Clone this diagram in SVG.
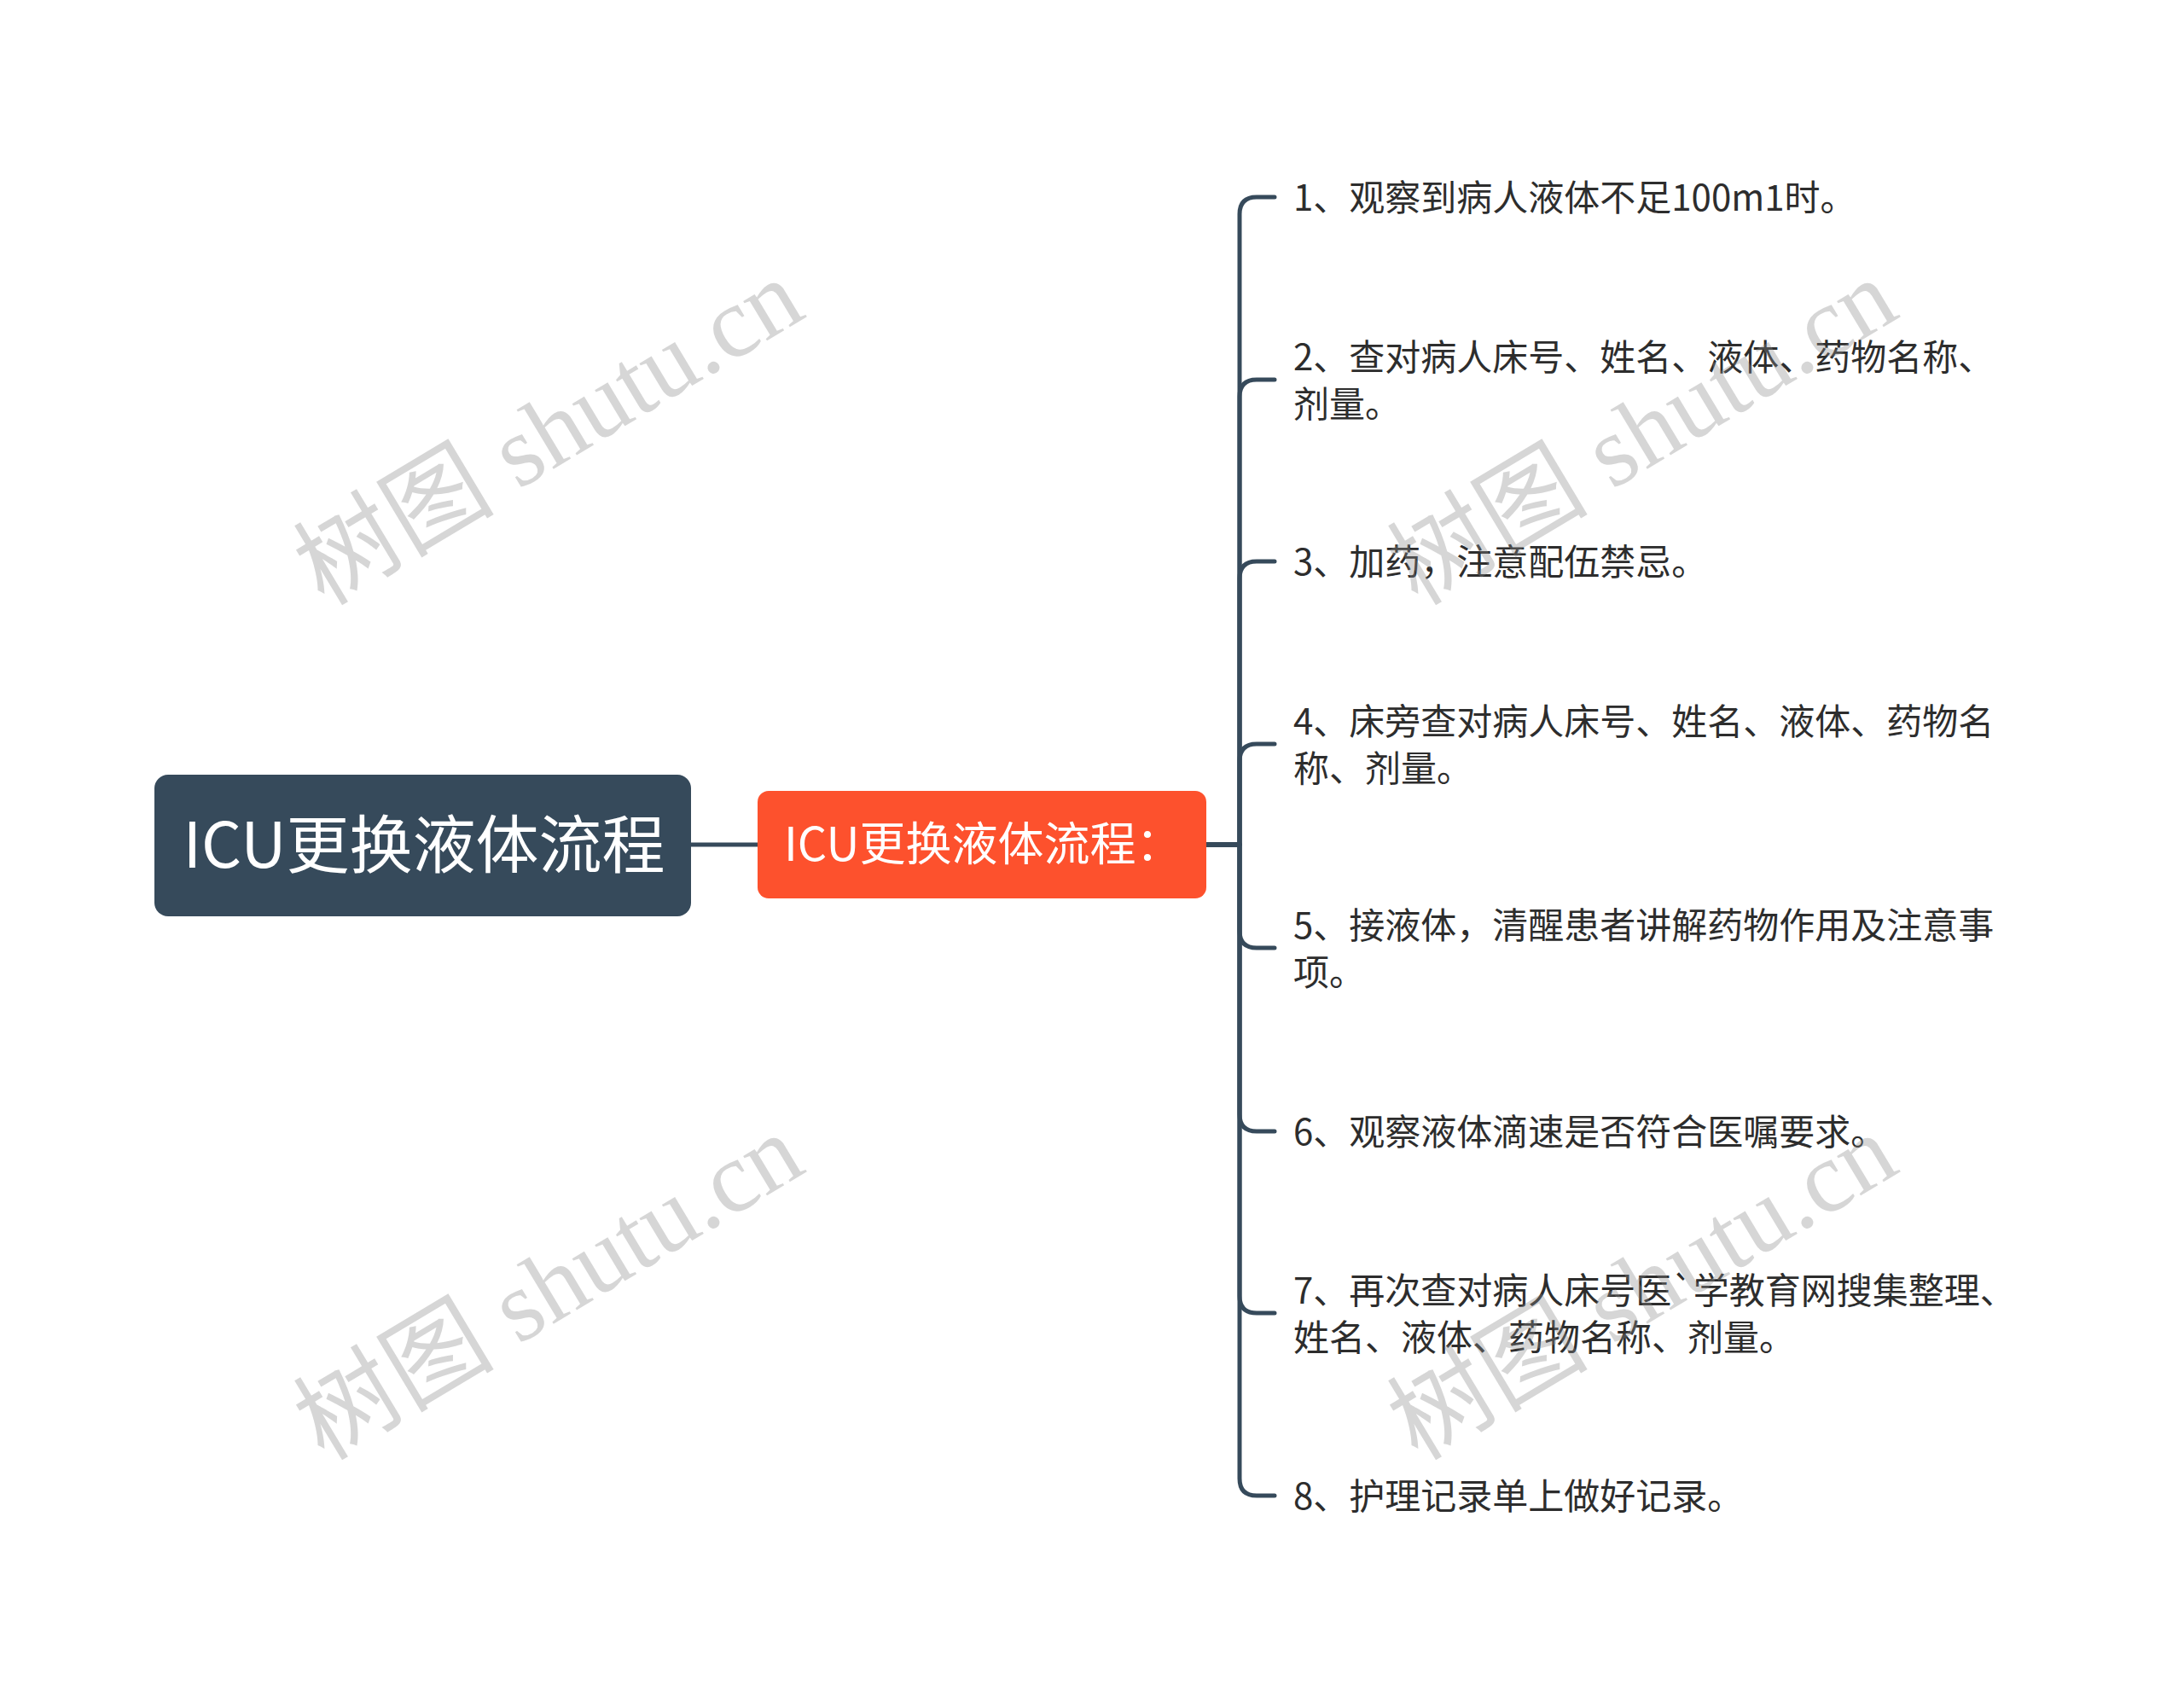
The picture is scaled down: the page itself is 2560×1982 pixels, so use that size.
<svg xmlns="http://www.w3.org/2000/svg" width="2560" height="1982" viewBox="0 0 2560 1982">
<style>
.conn{fill:none;stroke:#364a5b;stroke-width:5;stroke-linecap:round;stroke-linejoin:round}
.leaf{font-family:"Noto Sans CJK SC","Noto Sans",sans-serif;font-size:42px;fill:#2d2d2d}
.wm{font-family:"Liberation Serif","Noto Sans CJK SC",serif;font-size:118px;fill:#8a8a8a;fill-opacity:0.35}
</style>
<rect width="2560" height="1982" fill="#ffffff"/>
<g id="connectors">
<path class="conn" d="M810 990 H888"/>
<path class="conn" d="M1414 990 H1453 V251 Q1453 231 1473 231 H1494"/>
<path class="conn" d="M1414 990 H1453 V465 Q1453 445 1473 445 H1494"/>
<path class="conn" d="M1414 990 H1453 V678 Q1453 658 1473 658 H1494"/>
<path class="conn" d="M1414 990 H1453 V892 Q1453 872 1473 872 H1494"/>
<path class="conn" d="M1414 990 H1453 V1091 Q1453 1111 1473 1111 H1494"/>
<path class="conn" d="M1414 990 H1453 V1306 Q1453 1326 1473 1326 H1494"/>
<path class="conn" d="M1414 990 H1453 V1519 Q1453 1539 1473 1539 H1494"/>
<path class="conn" d="M1414 990 H1453 V1733 Q1453 1753 1473 1753 H1494"/>
</g>
<g id="root">
<rect x="181" y="908" width="629" height="166" rx="16" fill="#364a5b"/>
<text x="497" y="1017" text-anchor="middle" font-family="'Noto Sans CJK SC','Noto Sans',sans-serif" font-size="74" fill="#ffffff">ICU更换液体流程</text>
</g>
<g id="main">
<rect x="888" y="927" width="526" height="126" rx="13" fill="#fd512d"/>
<text x="919" y="1009" font-family="'Noto Sans CJK SC','Noto Sans',sans-serif" font-size="54" fill="#ffffff">ICU更换液体流程：</text>
</g>
<g id="item1"><text class="leaf" x="1516" y="247">1、观察到病人液体不足100m1时。</text></g>
<g id="item2"><text class="leaf" x="1516" y="434">2、查对病人床号、姓名、液体、药物名称、<tspan x="1516" dy="55">剂量。</tspan></text></g>
<g id="item3"><text class="leaf" x="1516" y="674">3、加药，注意配伍禁忌。</text></g>
<g id="item4"><text class="leaf" x="1516" y="861">4、床旁查对病人床号、姓名、液体、药物名<tspan x="1516" dy="55">称、剂量。</tspan></text></g>
<g id="item5"><text class="leaf" x="1516" y="1100">5、接液体，清醒患者讲解药物作用及注意事<tspan x="1516" dy="55">项。</tspan></text></g>
<g id="item6"><text class="leaf" x="1516" y="1342">6、观察液体滴速是否符合医嘱要求。</text></g>
<g id="item7"><text class="leaf" x="1516" y="1528">7、再次查对病人床号医`学教育网搜集整理、<tspan x="1516" dy="55">姓名、液体、药物名称、剂量。</tspan></text></g>
<g id="item8"><text class="leaf" x="1516" y="1769">8、护理记录单上做好记录。</text></g>
<g id="watermarks">
<text class="wm" text-anchor="middle" transform="translate(645 510) rotate(-31)" y="36">树图 shutu.cn</text>
<text class="wm" text-anchor="middle" transform="translate(1927 510) rotate(-31)" y="36">树图 shutu.cn</text>
<text class="wm" text-anchor="middle" transform="translate(645 1512) rotate(-31)" y="36">树图 shutu.cn</text>
<text class="wm" text-anchor="middle" transform="translate(1927 1512) rotate(-31)" y="36">树图 shutu.cn</text>
</g>
</svg>
